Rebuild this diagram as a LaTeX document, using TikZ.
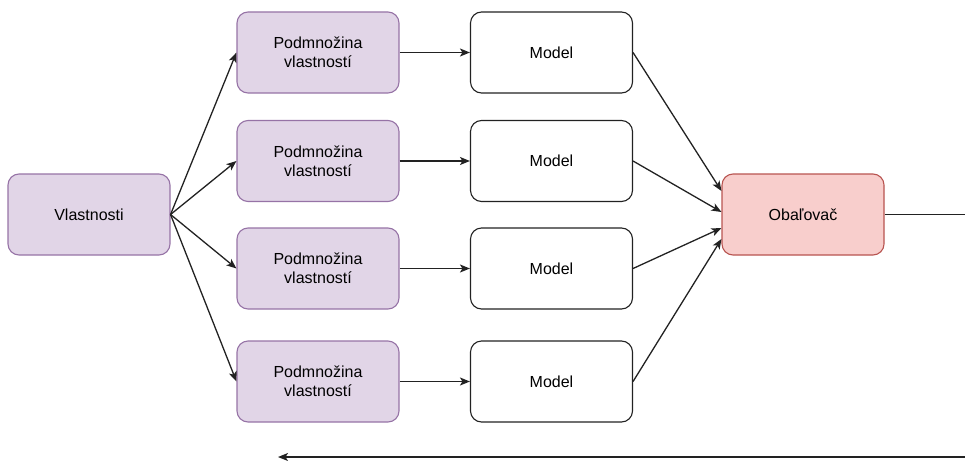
\documentclass[tikz,border=0pt]{standalone}
\usepackage{fontspec}
\setmainfont{Liberation Sans}
\usetikzlibrary{arrows.meta}
\definecolor{pfill}{HTML}{E1D5E7}
\definecolor{pdraw}{HTML}{9673A6}
\definecolor{rfill}{HTML}{F8CECC}
\definecolor{rdraw}{HTML}{B85450}
\definecolor{ln}{HTML}{222222}
\tikzset{
  box/.style={draw, rounded corners=11pt, minimum width=162pt, minimum height=81pt, inner sep=0pt, align=center, font=\fontsize{16}{19}\selectfont, line width=1.1pt, text=black},
  purplebox/.style={box, fill=pfill, draw=pdraw},
  modelbox/.style={box, fill=white, draw=ln},
  redbox/.style={box, fill=rfill, draw=rdraw},
  conn/.style={draw=ln, line width=1.3pt, -{Stealth[length=10pt,width=8pt,inset=2.5pt]}},
  plain/.style={draw=ln, line width=1.3pt}
}
\begin{document}
\begin{tikzpicture}[x=1pt,y=-1pt]
\useasboundingbox (0,0) rectangle (965,460);
\node[purplebox] (v) at (89,214.5) {Vlastnosti};
\node[purplebox] (p1) at (318,52.5) {Podmnožina\\vlastností};
\node[purplebox] (p2) at (318,161) {Podmnožina\\vlastností};
\node[purplebox] (p3) at (318,268.5) {Podmnožina\\vlastností};
\node[purplebox] (p4) at (318,381.5) {Podmnožina\\vlastností};
\node[modelbox] (m1) at (551.5,52.5) {Model};
\node[modelbox] (m2) at (551.5,161) {Model};
\node[modelbox] (m3) at (551.5,268.5) {Model};
\node[modelbox] (m4) at (551.5,381.5) {Model};
\node[redbox] (o) at (803,214.5) {Obaľovač};
\coordinate (e1) at (o.west |- 0,191);
\coordinate (e2) at (o.west |- 0,212);
\coordinate (e3) at (o.west |- 0,228);
\coordinate (e4) at (o.west |- 0,239);
\coordinate (rout) at (965,214.5);
\coordinate (bstart) at (965,457);
\coordinate (bend) at (278,457);
\foreach \i in {1,2,3,4} {
  \draw[conn] (v.east) -- (p\i.west);
  \draw[conn] (p\i.east) -- (m\i.west);
  \draw[conn] (m\i.east) -- (e\i);
}
\draw[plain] (o.east) -- (rout);
\draw[conn] (bstart) -- (bend);
\end{tikzpicture}
\end{document}
